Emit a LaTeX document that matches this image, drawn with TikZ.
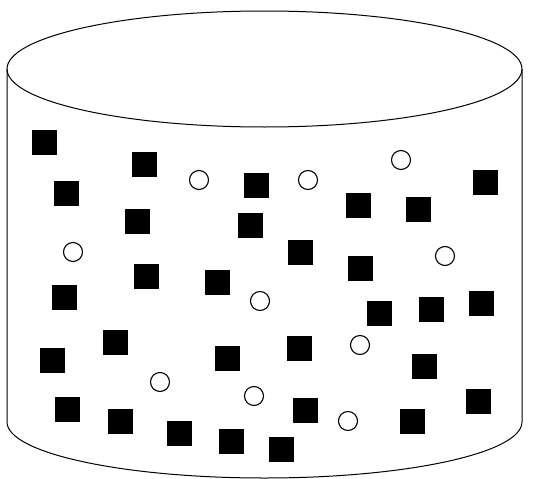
\documentclass[tikz,border=0pt]{standalone}
\usetikzlibrary{calc}

\begin{document}
\begin{tikzpicture}[x=1pt, y=-1pt,
    particle/.style={draw=black, fill=black, minimum size=24.5pt, inner sep=0pt},
    bubble/.style={circle, draw=black, line width=1.1pt, fill=white, minimum size=19pt, inner sep=0pt}]

    \useasboundingbox (0,0) rectangle (533,479);

    \coordinate (TL) at (7,69);
    \coordinate (TR) at (522,69);
    \coordinate (BL) at (7,422);
    \coordinate (BR) at (522,422);

    % cylinder
    \draw[line width=1pt] (264.5,69) ellipse [x radius=257.5, y radius=58];
    \draw[line width=1pt] (TL) -- (BL) arc [start angle=180, end angle=0, x radius=257.5, y radius=56] -- (TR);

    % solid particles
    \node[particle] (s1) at (44,142) {};
    \node[particle] (s2) at (144,164) {};
    \node[particle] (s3) at (66,193) {};
    \node[particle] (s4) at (256,185) {};
    \node[particle] (s5) at (358,205) {};
    \node[particle] (s6) at (418,209) {};
    \node[particle] (s7) at (485,182) {};
    \node[particle] (s8) at (137,221) {};
    \node[particle] (s9) at (250,225) {};
    \node[particle] (s10) at (300,252) {};
    \node[particle] (s11) at (360,268) {};
    \node[particle] (s12) at (146,276) {};
    \node[particle] (s13) at (217,282) {};
    \node[particle] (s14) at (64,297) {};
    \node[particle] (s15) at (379,313) {};
    \node[particle] (s16) at (431,309) {};
    \node[particle] (s17) at (481,303) {};
    \node[particle] (s18) at (115,342) {};
    \node[particle] (s19) at (52,360) {};
    \node[particle] (s20) at (227,358) {};
    \node[particle] (s21) at (299,348) {};
    \node[particle] (s22) at (424,366) {};
    \node[particle] (s23) at (67,409) {};
    \node[particle] (s24) at (305,410) {};
    \node[particle] (s25) at (478,401) {};
    \node[particle] (s26) at (120,421) {};
    \node[particle] (s27) at (412,421) {};
    \node[particle] (s28) at (179,433) {};
    \node[particle] (s29) at (231,441) {};
    \node[particle] (s30) at (281,449) {};

    % bubbles
    \node[bubble] (b1) at (199,180) {};
    \node[bubble] (b2) at (308,180) {};
    \node[bubble] (b3) at (401,160) {};
    \node[bubble] (b4) at (73,252) {};
    \node[bubble] (b5) at (445,256) {};
    \node[bubble] (b6) at (260,301) {};
    \node[bubble] (b7) at (360,345) {};
    \node[bubble] (b8) at (160,382) {};
    \node[bubble] (b9) at (254,396) {};
    \node[bubble] (b10) at (348,421) {};

\end{tikzpicture}
\end{document}
